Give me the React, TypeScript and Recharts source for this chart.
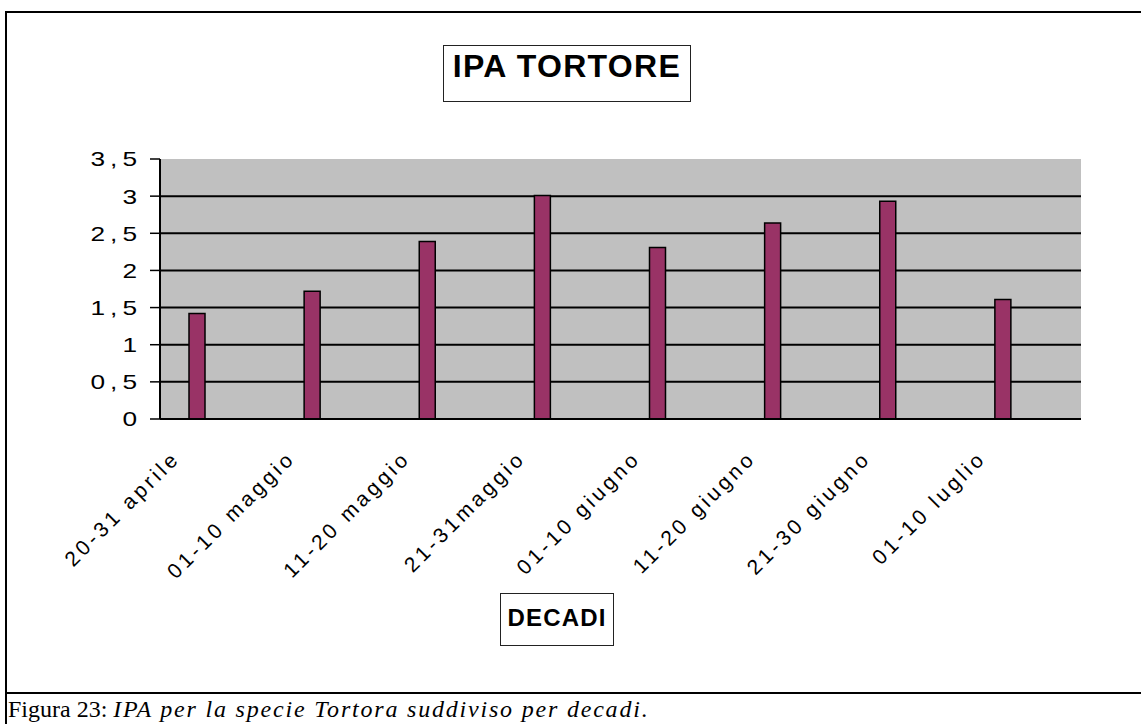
import React from "react";
import {
  BarChart, Bar, XAxis, YAxis, CartesianGrid,
} from "recharts";

// decadi (una categoria vuota fra ogni decade, come nell'originale)
const decadi = [
  "20-31 aprile",
  "01-10 maggio",
  "11-20 maggio",
  "21-31maggio",
  "01-10 giugno",
  "11-20 giugno",
  "21-30 giugno",
  "01-10 luglio",
];
const ipaTortore = [1.42, 1.72, 2.39, 3.01, 2.31, 2.64, 2.93, 1.61];
const yTicks = [0, 0.5, 1, 1.5, 2, 2.5, 3, 3.5];
const gridValues = [0.5, 1, 1.5, 2, 2.5, 3];

const rows = decadi.flatMap((d, i) => [
  { cat: d, vuota: null, ipa: ipaTortore[i] },
  { cat: "", vuota: null, ipa: null },
]);
const boundaryTicks = Array.from({ length: rows.length + 1 }, (_, i) => i);

const FONT = "'Liberation Sans', Arial, sans-serif";

function DecadeTick({ x, y, payload }: any) {
  if (!payload.value) return null;
  const tx = x - 10;
  const ty = y + 43;
  return (
    <text
      x={tx}
      y={ty}
      dx={3.5}
      transform={`rotate(-45 ${tx} ${ty})`}
      textAnchor="end"
      fontFamily={FONT}
      fontSize={21}
      letterSpacing={3.5}
      fill="#000"
    >
      {payload.value}
    </text>
  );
}

// etichette asse y un po' allargate, come il rendering originale
function ValueTick({ x, y, payload }: any) {
  return (
    <g transform={`translate(${x},${y}) scale(1.25,1)`}>
      <text
        x={0}
        y={0}
        dx={4}
        dy="0.355em"
        textAnchor="end"
        fontFamily={FONT}
        fontSize={21}
        letterSpacing={4}
        fill="#000"
      >
        {String(payload.value).replace(".", ",")}
      </text>
    </g>
  );
}

export default function App() {
  return (
    <div style={{ position: "absolute", left: 0, top: 0, width: 1141, height: 724, background: "#fff", overflow: "hidden" }}>
      {/* cornice della tabella */}
      <div style={{ position: "absolute", left: 5, top: 11, width: 2, height: 713, background: "#000" }} />
      <div style={{ position: "absolute", left: 5, top: 11, width: 1136, height: 2, background: "#000" }} />
      <div style={{ position: "absolute", left: 5, top: 692, width: 1136, height: 2, background: "#000" }} />

      <div style={{ position: "absolute", left: 0, top: 0 }}>
        <BarChart
          width={1141}
          height={724}
          data={rows}
          margin={{ top: 159, right: 60, left: 60, bottom: 145 }}
          barSize={16}
          barGap={0}
        >
          <CartesianGrid
            vertical={false}
            horizontalValues={gridValues}
            fill="#C0C0C0"
            fillOpacity={1}
            stroke="#000"
            strokeWidth={2}
          />
          <XAxis
            xAxisId="t"
            type="number"
            domain={[0, rows.length]}
            ticks={boundaryTicks}
            tick={false}
            tickSize={10}
            tickLine={{ stroke: "#000", strokeWidth: 1.5 }}
            axisLine={false}
            height={0}
          />
          <XAxis
            dataKey="cat"
            interval={0}
            tickLine={false}
            tickSize={0}
            tickMargin={0}
            axisLine={{ stroke: "#000", strokeWidth: 2 }}
            tick={<DecadeTick />}
            height={160}
          />
          <XAxis
            xAxisId="top"
            dataKey="cat"
            orientation="top"
            height={0}
            tick={false}
            tickLine={false}
            axisLine={{ stroke: "#8a8a8a", strokeWidth: 1.5 }}
          />
          <YAxis
            domain={[0, 3.5]}
            ticks={yTicks}
            interval={0}
            width={100}
            tickSize={10}
            tickMargin={13}
            tick={<ValueTick />}
            tickLine={{ stroke: "#000", strokeWidth: 1.5 }}
            axisLine={{ stroke: "#000", strokeWidth: 2 }}
          />
          <YAxis
            yAxisId="r"
            orientation="right"
            domain={[0, 1]}
            width={0}
            tick={false}
            tickLine={false}
            axisLine={{ stroke: "#8a8a8a", strokeWidth: 1.5 }}
          />
          <Bar dataKey="vuota" fill="#993366" isAnimationActive={false} />
          <Bar dataKey="ipa" fill="#993366" stroke="#000" strokeWidth={1.5} isAnimationActive={false} />
        </BarChart>
      </div>

      {/* titolo */}
      <div
        style={{
          position: "absolute", left: 443, top: 45, width: 248, height: 57,
          boxSizing: "border-box", border: "1px solid #222", paddingTop: 2,
          textAlign: "center", fontFamily: FONT, fontWeight: "bold", fontSize: 32, lineHeight: "36px",
          letterSpacing: 1.3,
        }}
      >
        IPA TORTORE
      </div>

      {/* titolo asse */}
      <div
        style={{
          position: "absolute", left: 500, top: 593, width: 114, height: 53,
          boxSizing: "border-box", border: "1px solid #222", paddingTop: 10,
          textAlign: "center", fontFamily: FONT, fontWeight: "bold", fontSize: 24, lineHeight: "normal",
          letterSpacing: 1.2,
        }}
      >
        DECADI
      </div>

      {/* didascalia */}
      <div
        style={{
          position: "absolute", left: 8, top: 696, whiteSpace: "nowrap",
          fontFamily: "'Liberation Serif', 'Times New Roman', serif", fontSize: 24, lineHeight: "normal",
        }}
      >
        Figura 23: <i style={{ letterSpacing: 1.8 }}>IPA per la specie Tortora suddiviso per decadi.</i>
      </div>
    </div>
  );
}
